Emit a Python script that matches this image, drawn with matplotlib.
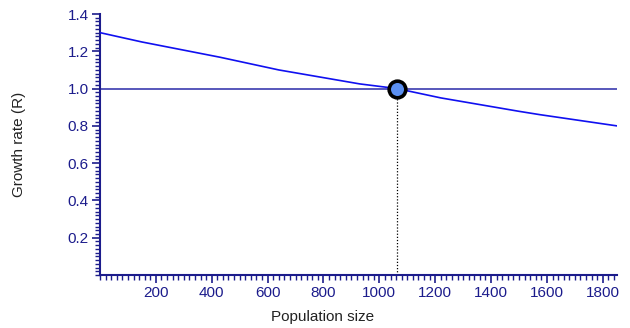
import matplotlib
matplotlib.use("Agg")
import matplotlib.pyplot as plt
from matplotlib.ticker import MultipleLocator, FixedLocator

# values
pop = [0, 150, 430, 640, 930, 1063, 1220, 1500, 1575, 1850]
growth = [1.30, 1.25, 1.168, 1.10, 1.025, 1.0, 0.95, 0.878, 0.86, 0.80]
eq_pop = 1063
eq_r = 1.0
xticks = [200, 400, 600, 800, 1000, 1200, 1400, 1600, 1800]
yticks = [0.2, 0.4, 0.6, 0.8, 1.0, 1.2, 1.4]

navy = "#1c1c8c"
plt.rcParams["font.family"] = ["Liberation Sans", "DejaVu Sans"]

fig = plt.figure(figsize=(6.3, 3.28), dpi=100)
ax = fig.add_axes([0.1587, 0.1616, 0.8203, 0.7957])

ax.axhline(eq_r, color="#2a2aa8", lw=1.1, zorder=2)
ax.plot(pop, growth, color="#1010f0", lw=1.2, zorder=3)
ax.plot([eq_pop, eq_pop], [0, eq_r], color="black", lw=0.9, ls=(0, (1, 1.5)), zorder=2)
ax.plot([eq_pop], [eq_r], "o", ms=12, mfc="#5b8ff0", mec="black", mew=2.6, zorder=5)

ax.set_xlim(0, 1850)
ax.set_ylim(0, 1.4)
ax.xaxis.set_major_locator(FixedLocator(xticks))
ax.yaxis.set_major_locator(FixedLocator(yticks))
ax.xaxis.set_minor_locator(MultipleLocator(20))
ax.yaxis.set_minor_locator(MultipleLocator(0.02))
ax.yaxis.set_major_formatter(matplotlib.ticker.FormatStrFormatter("%.1f"))

for s in ("top", "right"):
    ax.spines[s].set_visible(False)
for s in ("left", "bottom"):
    ax.spines[s].set_color(navy)
    ax.spines[s].set_linewidth(1.5)

ax.tick_params(which="major", direction="out", length=6, width=1.2, color=navy,
               labelcolor=navy, labelsize=11, pad=2)
ax.tick_params(which="minor", direction="out", length=3.5, width=1.0, color=navy)

ax.set_xlabel("Population size", fontsize=11, color="#222222")
ax.xaxis.set_label_coords(0.431, -0.135)
ax.set_ylabel("Growth rate (R)", fontsize=11, color="#222222", labelpad=30)

fig.savefig("out.png", dpi=100)
